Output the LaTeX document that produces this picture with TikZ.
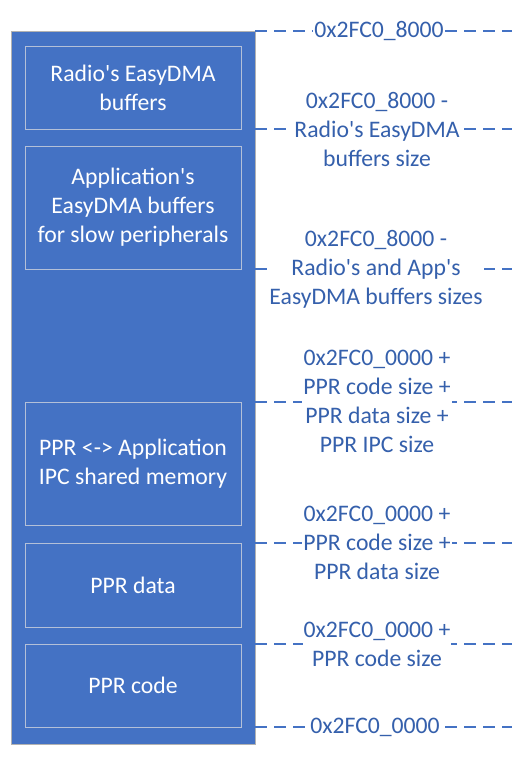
\documentclass[tikz,border=0pt]{standalone}
\usepackage{fontspec}
\setmainfont{Carlito}
\usepackage{tikz}
\usetikzlibrary{calc,positioning}
\usepackage{xcolor}
\definecolor{ramblue}{HTML}{4472C4}
\definecolor{ramtext}{HTML}{3560AC}
\definecolor{ramedge}{HTML}{B4C0D8}
\newcommand{\ap}{\textquotesingle}

\begin{document}
\begin{tikzpicture}[
  x=1pt,y=-1pt,
  font=\fontsize{23.7}{29}\selectfont,
  ramarea/.style={draw=black!30,line width=0.8pt,fill=ramblue,outer sep=0pt,
                  minimum width=244pt,minimum height=713pt},
  section/.style={draw=ramedge,line width=1pt,fill=ramblue,text=white,
                  align=center,outer sep=0pt,minimum width=216pt},
  guide/.style={draw=ramblue,line width=1.3pt,dash pattern=on 12pt off 7pt},
  addr/.style={fill=white,text=ramtext,align=center,inner sep=1pt}
]
\useasboundingbox (0,0) rectangle (522,763);

\node[ramarea] (ram) at (133,387.5) {};
\node[section,minimum height=83pt] (radio) at (133,87.5)
  {Radio\ap s EasyDMA\\buffers};
\node[section,minimum height=123pt] (appbuf) at (133,207.5)
  {Application\ap s\\EasyDMA buffers\\for slow peripherals};
\node[section,minimum height=123pt] (ipc) at (133,463.5)
  {PPR <-> Application\\IPC shared memory};
\node[section,minimum height=84pt] (pprdata) at (133,585)
  {PPR data};
\node[section,minimum height=83pt] (pprcode) at (133,685.5)
  {PPR code};

% boundary lines
\foreach \name/\y in {top/31,radioend/129,append/269,ipcstart/402,
                      datastart/543,codeend/644,base/727}{
  \coordinate (\name-a) at (255,\y);
  \coordinate (\name-b) at (512,\y);
  \draw[guide] (\name-a) -- (\name-b);
}

\node[addr] (ltop) at (379,31) {0x2FC0\_8000};
\node[addr] (lradio) at (377,129)
  {0x2FC0\_8000 -\\Radio\ap s EasyDMA\\buffers size};
\node[addr] (lapp) at (376,269)
  {0x2FC0\_8000 -\\Radio\ap s and App\ap s\\EasyDMA buffers sizes};
\node[addr] (lipc) at (377,401.5)
  {0x2FC0\_0000 +\\PPR code size +\\PPR data size +\\PPR IPC size};
\node[addr] (ldata) at (377,543)
  {0x2FC0\_0000 +\\PPR code size +\\PPR data size};
\node[addr] (lcode) at (377,644)
  {0x2FC0\_0000 +\\PPR code size};
\node[addr] (lbase) at (375,727) {0x2FC0\_0000};
\end{tikzpicture}
\end{document}
